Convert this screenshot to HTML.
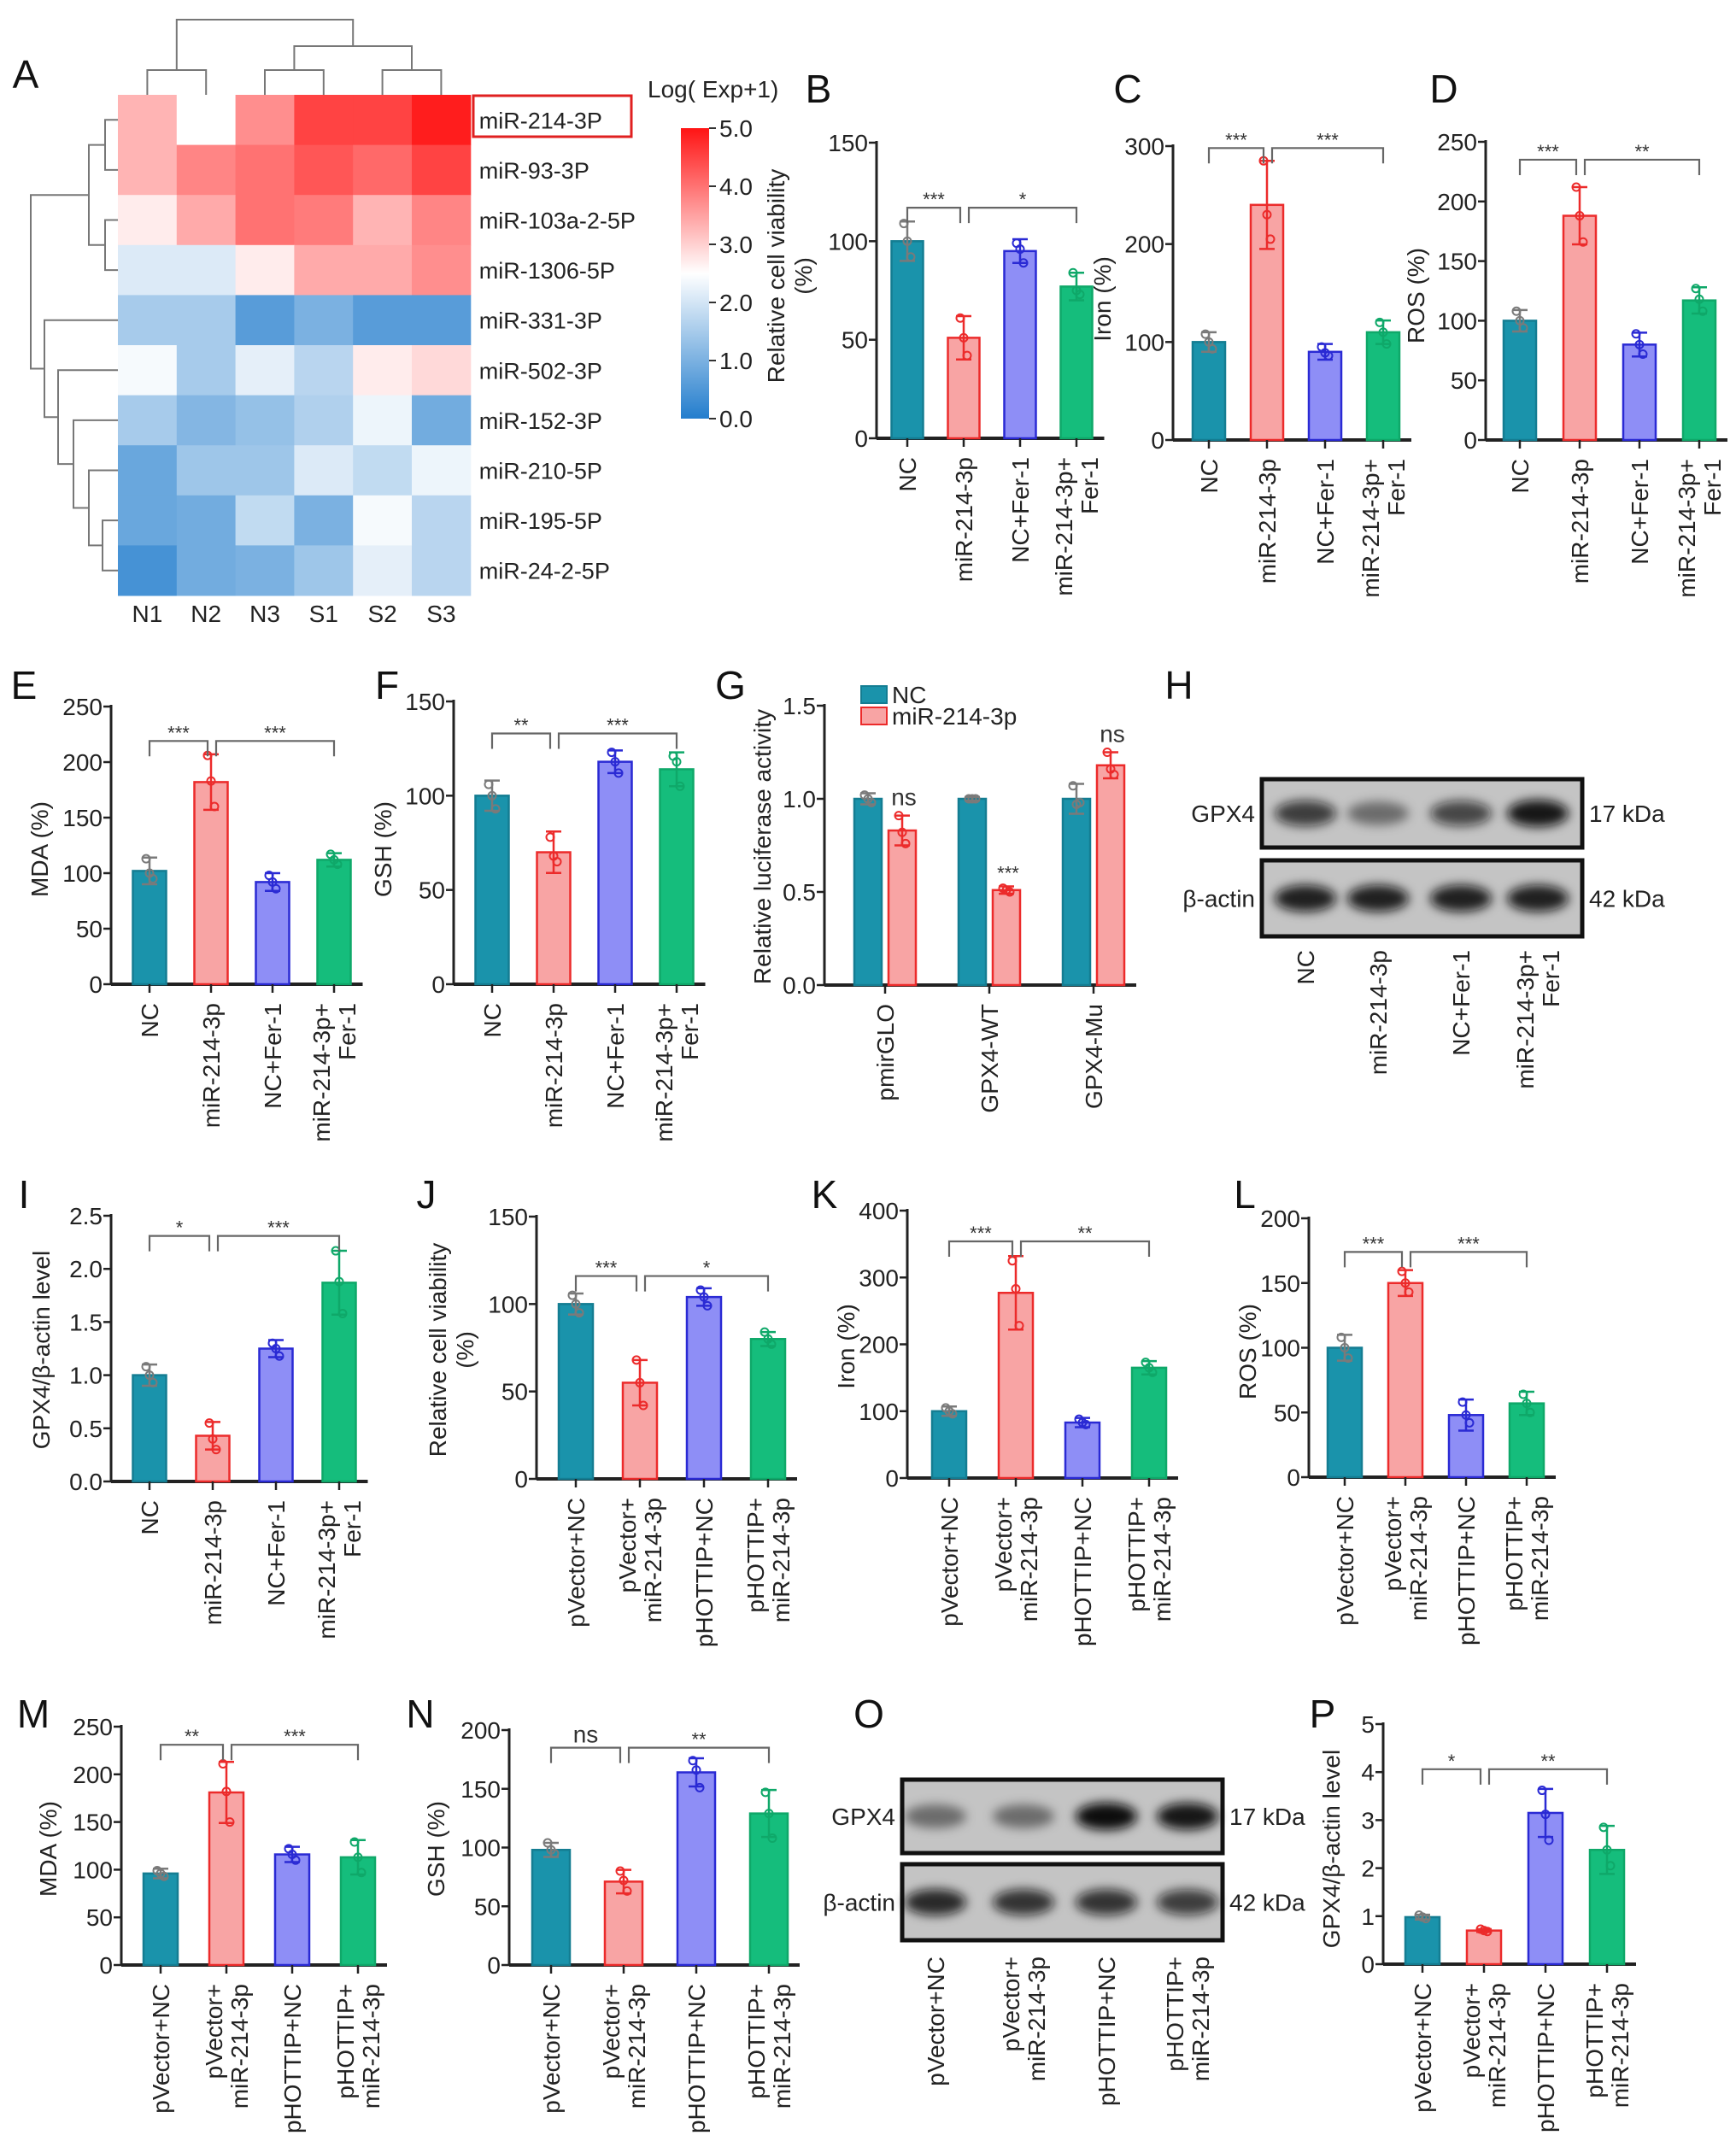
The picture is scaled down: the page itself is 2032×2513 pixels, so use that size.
<!DOCTYPE html>
<html><head><meta charset="utf-8">
<style>
html,body{margin:0;padding:0;background:#fff;}
svg{display:block;font-family:"Liberation Sans",Arial,sans-serif;}
</style></head>
<body>
<svg id="fig" width="2032" height="2513" viewBox="0 0 2032 2513" xmlns="http://www.w3.org/2000/svg">
<defs>
<filter id="blur" x="-50%" y="-50%" width="200%" height="200%"><feGaussianBlur stdDeviation="6"/></filter>
</defs>
</svg>
<script>
// ---------- Heatmap data ----------
const hmCols = ["N1","N2","N3","S1","S2","S3"];
const hmRows = ["miR-214-3P","miR-93-3P","miR-103a-2-5P","miR-1306-5P","miR-331-3P","miR-502-3P","miR-152-3P","miR-210-5P","miR-195-5P","miR-24-2-5P"];
const hmVals = [
 [3.3,2.5,3.7,4.5,4.5,4.9],
 [3.3,3.8,4.0,4.3,4.1,4.5],
 [2.7,3.4,4.0,3.9,3.3,3.8],
 [2.1,2.1,2.7,3.4,3.4,3.7],
 [1.5,1.5,0.6,1.0,0.6,0.6],
 [2.4,1.5,2.2,1.7,2.7,2.9],
 [1.5,1.1,1.3,1.6,2.3,0.9],
 [0.8,1.4,1.4,2.1,1.8,2.3],
 [0.8,0.9,1.8,1.0,2.4,1.7],
 [0.4,0.9,1.0,1.4,2.2,1.7]
];
const cbTicks = ["0.0","1.0","2.0","3.0","4.0","5.0"];

// ---------- Bar chart data ----------
const catsFer = ["NC","miR-214-3p","NC+Fer-1","miR-214-3p+|Fer-1"];
const catsHot = ["pVector+NC","pVector+|miR-214-3p","pHOTTIP+NC","pHOTTIP+|miR-214-3p"];

const bMean=[100,51,95,77], bSd=[10,11,6,7], bPts=[[109,100,92],[61,51,42],[99,96,89],[84,75,73]];
const cMean=[100,240,90,110], cSd=[10,45,8,12], cPts=[[108,100,93],[285,230,205],[95,89,86],[120,110,98]];
const dMean=[100,188,80,117], dSd=[9,24,10,11], dPts=[[108,100,94],[212,188,166],[89,80,72],[127,118,108]];
const eMean=[102,182,92,112], eSd=[12,25,8,6], ePts=[[113,100,95],[206,183,160],[98,92,86],[117,112,108]];
const fMean=[100,70,118,114], fSd=[8,11,6,9], fPts=[[106,100,93],[78,68,65],[123,118,112],[121,118,105]];
const gNC=[1.0,1.0,1.0], gNCsd=[0.03,0.01,0.08], gNCpts=[[1.02,1.0,0.98],[1.0,1.0,1.0],[1.07,0.97,0.98]];
const gMiR=[0.83,0.51,1.18], gMiRsd=[0.08,0.02,0.07], gMiRpts=[[0.91,0.82,0.76],[0.52,0.51,0.50],[1.25,1.16,1.13]];
const iMean=[1.0,0.43,1.25,1.87], iSd=[0.1,0.13,0.08,0.3], iPts=[[1.08,1.0,0.93],[0.55,0.40,0.30],[1.30,1.25,1.18],[2.17,1.88,1.58]];
const jMean=[100,55,104,80], jSd=[6,13,5,4], jPts=[[105,100,95],[68,55,42],[108,104,99],[84,80,77]];
const kMean=[100,277,83,165], kSd=[7,55,7,10], kPts=[[105,100,96],[325,283,228],[88,83,80],[173,165,158]];
const lMean=[100,150,48,57], lSd=[10,10,12,9], lPts=[[108,100,92],[159,150,143],[58,48,42],[64,57,50]];
const mMean=[96,181,116,113], mSd=[5,32,8,18], mPts=[[99,96,93],[211,182,150],[122,116,110],[129,113,97]];
const nMean=[98,71,164,129], nSd=[6,10,12,20], nPts=[[104,98,95],[80,72,63],[174,166,151],[147,129,108]];
const pMean=[0.98,0.70,3.15,2.38], pSd=[0.05,0.03,0.5,0.5], pPts=[[1.02,0.98,0.95],[0.73,0.70,0.68],[3.62,3.12,2.58],[2.85,2.38,2.05]];

const ticks150=["0","50","100","150"], ticks300=["0","100","200","300"], ticks250=["0","50","100","150","200","250"];
const ticks15=["0.0","0.5","1.0","1.5"], ticks25=["0.0","0.5","1.0","1.5","2.0","2.5"];
const ticks400=["0","100","200","300","400"], ticks200=["0","50","100","150","200"], ticks5=["0","1","2","3","4","5"];

const sigB=["***","*"], sigC=["***","***"], sigD=["***","**"], sigE=["***","***"], sigF=["**","***"];
const sigI=["*","***"], sigJ=["***","*"], sigK=["***","**"], sigL=["***","***"], sigM=["**","***"], sigN=["ns","**"], sigP=["*","**"];
const sigLevB=117, sigLevC=298, sigLevD=235, sigLevE=219, sigLevF=133, sigLevI=2.31, sigLevJ=116, sigLevK=354, sigLevL=174, sigLevM=231, sigLevN=185, sigLevP=4.06;
const gSig=["ns","***","ns"];

// ---------- drawing helpers ----------
const NS="http://www.w3.org/2000/svg";
const svg=document.getElementById('fig');
function mk(tag,attrs,parent){const e=document.createElementNS(NS,tag);for(const k in attrs)e.setAttribute(k,attrs[k]);(parent||svg).appendChild(e);return e;}
function txt(s,attrs,parent){const e=mk('text',attrs,parent);e.textContent=s;return e;}
function grp(name,parent){const g=mk('g',{},parent);return g;}

const FILL=['#1a93ab','#f8a4a4','#8e8ef6','#15bd7c'];
const STROKE=['#147d92','#ec2b2b','#2a2ad4','#0fa869'];
const ERR=['#7a7a7a','#ec2b2b','#2a2ad4','#0fa869'];

function yS(p,v){return p.y0-(v/p.max)*(p.y0-p.yTop);}

function axes(p,g,ticks){
  const a=mk('line',{x1:p.ax,y1:p.yTop-2,x2:p.ax,y2:p.y0,stroke:'#222','stroke-width':3},g);
  
  ticks.forEach((t,i)=>{
    const v=parseFloat(t);const y=yS(p,v);
    mk('line',{x1:p.ax-9,y1:y,x2:p.ax,y2:y,stroke:'#222','stroke-width':2.5},g);
    const tl=txt(t,{x:p.ax-10,y:y+10,'font-size':28,'text-anchor':'end',fill:'#222'},g);
    
  });
  const xa=mk('line',{x1:p.ax,y1:p.y0,x2:p.xEnd,y2:p.y0,stroke:'#222','stroke-width':4},g);
  
}
function xLabel(g,x,y,label){
  const lines=label.split('|');
  lines.forEach((ln,k)=>{
    const off=(k-(lines.length-1)/2)*30;
    const t=txt(ln,{x:0,y:0,'font-size':28,'text-anchor':'end',fill:'#222',transform:`translate(${x+off+10},${y}) rotate(-90)`},g);
    
  });
}
function yTitle(g,x,y,lines){
  lines.forEach((ln,k)=>{
    const t=txt(ln,{x:0,y:0,'font-size':28,'text-anchor':'middle',fill:'#222',transform:`translate(${x+k*32},${y}) rotate(-90)`},g);
    
  });
}
function barMark(p,g,x,w,mean,sd,pts,ci){
  const yt=yS(p,mean),yb=p.y0;
  const r=mk('rect',{x:x-w/2,y:yt,width:w,height:yb-yt,fill:FILL[ci],stroke:STROKE[ci],'stroke-width':2.5},g);
  
  const y1=yS(p,mean+sd),y2=yS(p,mean-sd);
  const e=mk('path',{d:`M${x},${y1}V${y2}M${x-9},${y1}H${x+9}M${x-9},${y2}H${x+9}`,stroke:ERR[ci],'stroke-width':2.5,fill:'none'},g);
  
  pts.forEach((v,k)=>{
    const c=mk('circle',{cx:x+(k-1)*4,cy:yS(p,v),r:4.5,fill:'none',stroke:ERR[ci],'stroke-width':2},g);
    
  });
}
function sig(p,g,x1,x2,lev,label){
  const y=yS(p,lev);
  const b=mk('path',{d:`M${x1},${y+18}V${y}H${x2}V${y+18}`,stroke:'#666','stroke-width':2.2,fill:'none'},g);
  
  const ns=label==='ns';
  const t=txt(label,{x:(x1+x2)/2,y:ns?y-6:y-2,'font-size':ns?28:22,'text-anchor':'middle',fill:'#333'},g);
  
}
function panelLetter(s,x,y){
  const t=txt(s,{x:x,y:y,'font-size':46,'text-anchor':'middle',fill:'#111'});
  
}
function barPanel(name,p,cats,means,sds,pts,ticks,sigs,sigLev,title){
  const g=grp(name);
  const xs=means.map((_,i)=>p.ax+p.off+i*p.step);
  p.xEnd=xs[xs.length-1]+p.w/2+14;
  axes(p,g,ticks);
  means.forEach((m,i)=>barMark(p,g,xs[i],p.w,m,sds[i],pts[i],i));
  xs.forEach((x,i)=>{mk('line',{x1:x,y1:p.y0,x2:x,y2:p.y0+10,stroke:'#222','stroke-width':2.5},g);xLabel(g,x,p.y0+22,cats[i]);});
  sig(p,g,xs[0],xs[1]-4,sigLev,sigs[0]);
  sig(p,g,xs[1]+6,xs[3],sigLev,sigs[1]);
  yTitle(g,title.x,title.y,title.lines);
}

// ---------- Panel A: heatmap ----------
(function(){
  const g=grp('heatmap-panel');
  const x0=138,y0=111,cw=68.8,rh=58.6;
  function col(v){
    const t=v/5;
    let r,gg,b;
    if(t<0.5){const s=t/0.5; r=35+(255-35)*s; gg=125+(255-125)*s; b=205+(255-205)*s;}
    else{const s=(t-0.5)/0.5; r=255; gg=255-(255-20)*s; b=255-(255-20)*s;}
    return `rgb(${Math.round(r)},${Math.round(gg)},${Math.round(b)})`;
  }
  hmVals.forEach((row,ri)=>row.forEach((v,ci)=>{
    const c=mk('rect',{x:x0+ci*cw,y:y0+ri*rh,width:cw+0.5,height:rh+0.5,fill:col(v)},g);
    
  }));
  hmRows.forEach((r,ri)=>{const t=txt(r,{x:x0+6*cw+10,y:y0+ri*rh+rh/2+10,'font-size':27,fill:'#222'},g);});
  hmCols.forEach((c,ci)=>{const t=txt(c,{x:x0+ci*cw+cw/2,y:728,'font-size':28,'text-anchor':'middle',fill:'#222'},g);});
  const hb=mk('rect',{x:554,y:112,width:185,height:48,fill:'none',stroke:'#e02020','stroke-width':3},g);
  
  const cc=i=>x0+i*cw+cw/2, rc=i=>y0+i*rh+rh/2;
  const dz=mk('path',{fill:'none',stroke:'#777','stroke-width':2,d:
   `M${cc(0)},${y0}V82H${cc(1)}V${y0} M${cc(2)},${y0}V82H${cc(3)}V${y0} M${cc(4)},${y0}V82H${cc(5)}V${y0}`+
   ` M${(cc(2)+cc(3))/2},82V54H${(cc(4)+cc(5))/2}V82 M${(cc(0)+cc(1))/2},82V23H${((cc(2)+cc(3))/2+(cc(4)+cc(5))/2)/2}V54`},g);
  
  const m01=(rc(0)+rc(1))/2,m23=(rc(2)+rc(3))/2,m89=(rc(8)+rc(9))/2,m789=(rc(7)+m89)/2,m6=(rc(6)+m789)/2,m5=(rc(5)+m6)/2,m4=(rc(4)+m5)/2,mTop=(m01+m23)/2;
  const dl=mk('path',{fill:'none',stroke:'#777','stroke-width':2,d:
   `M${x0},${rc(0)}H123V${rc(1)}H${x0} M${x0},${rc(2)}H123V${rc(3)}H${x0} M123,${m01}H104V${m23}H123`+
   ` M${x0},${rc(8)}H120V${rc(9)}H${x0} M${x0},${rc(7)}H104V${m89}H120 M${x0},${rc(6)}H86V${m789}H104`+
   ` M${x0},${rc(5)}H68V${m6}H86 M${x0},${rc(4)}H52V${m5}H68 M104,${mTop}H36V${m4}H52`},g);
  
  const grad=mk('linearGradient',{id:'cb',x1:0,y1:1,x2:0,y2:0},svg.querySelector('defs'));
  [0,0.25,0.5,0.75,1].forEach(o=>mk('stop',{offset:o,'stop-color':col(o*5)},grad));
  const cb=mk('rect',{x:797,y:150,width:33,height:340,fill:'url(#cb)'},g);
  
  cbTicks.forEach((t,i)=>{const y=490-i*340/5;mk('line',{x1:830,y1:y,x2:838,y2:y,stroke:'#333','stroke-width':2},g);
    const tl=txt(t,{x:842,y:y+10,'font-size':28,fill:'#222'},g);});
  const ct=txt('Log( Exp+1)',{x:758,y:114,'font-size':28,fill:'#222'},g);
})();

// ---------- Bar panels ----------
barPanel('panel-b',{ax:1026,y0:513,yTop:167,max:150,off:36,step:66,w:37},catsFer,bMean,bSd,bPts,ticks150,sigB,sigLevB,{x:918,y:323,lines:['Relative cell viability','(%)']});
barPanel('panel-c',{ax:1373,y0:515,yTop:171,max:300,off:42,step:68,w:38},catsFer,cMean,cSd,cPts,ticks300,sigC,sigLevC,{x:1300,y:350,lines:['Iron (%)']});
barPanel('panel-d',{ax:1739,y0:515,yTop:166,max:250,off:40,step:70,w:38},catsFer,dMean,dSd,dPts,ticks250,sigD,sigLevD,{x:1667,y:346,lines:['ROS (%)']});
barPanel('panel-e',{ax:130,y0:1152,yTop:827,max:250,off:45,step:72,w:39},catsFer,eMean,eSd,ePts,ticks250,sigE,sigLevE,{x:56,y:994,lines:['MDA (%)']});
barPanel('panel-f',{ax:531,y0:1152,yTop:821,max:150,off:45,step:72,w:39},catsFer,fMean,fSd,fPts,ticks150,sigF,sigLevF,{x:458,y:994,lines:['GSH (%)']});
barPanel('panel-i',{ax:130,y0:1734,yTop:1423,max:2.5,off:45,step:74,w:39},catsFer,iMean,iSd,iPts,ticks25,sigI,sigLevI,{x:58,y:1580,lines:['GPX4/β-actin level']});
barPanel('panel-j',{ax:628,y0:1731,yTop:1424,max:150,off:46,step:75,w:40},catsHot,jMean,jSd,jPts,ticks150,sigJ,sigLevJ,{x:522,y:1580,lines:['Relative cell viability','(%)']});
barPanel('panel-k',{ax:1062,y0:1730,yTop:1417,max:400,off:49,step:78,w:40},catsHot,kMean,kSd,kPts,ticks400,sigK,sigLevK,{x:1000,y:1576,lines:['Iron (%)']});
barPanel('panel-l',{ax:1532,y0:1729,yTop:1426,max:200,off:42,step:71,w:40},catsHot,lMean,lSd,lPts,ticks200,sigL,sigLevL,{x:1470,y:1582,lines:['ROS (%)']});
barPanel('panel-m',{ax:142,y0:2300,yTop:2021,max:250,off:46,step:77,w:40},catsHot,mMean,mSd,mPts,ticks250,sigM,sigLevM,{x:66,y:2164,lines:['MDA (%)']});
barPanel('panel-n',{ax:596,y0:2300,yTop:2025,max:200,off:49,step:85,w:44},catsHot,nMean,nSd,nPts,ticks200,sigN,sigLevN,{x:520,y:2164,lines:['GSH (%)']});
barPanel('panel-p',{ax:1619,y0:2299,yTop:2018,max:5,off:46,step:72,w:40},catsHot,pMean,pSd,pPts,ticks5,sigP,sigLevP,{x:1568,y:2164,lines:['GPX4/β-actin level']});

// ---------- Panel G: grouped bars ----------
(function(){
  const g=grp('panel-g');
  const p={ax:965,y0:1153,yTop:826,max:1.5};
  const groups=['pmirGLO','GPX4-WT','GPX4-Mu'];
  const gx=groups.map((_,i)=>p.ax+71+i*122);
  p.xEnd=gx[2]+20+16+14;
  axes(p,g,ticks15);
  gNC.forEach((v,i)=>barMark(p,g,gx[i]-20,32,v,gNCsd[i],gNCpts[i],0));
  gMiR.forEach((v,i)=>{barMark(p,g,gx[i]+20,32,v,gMiRsd[i],gMiRpts[i],1);
    const s=gSig[i];const t=txt(s,{x:gx[i]+22,y:yS(p,v+gMiRsd[i])-(s==='ns'?12:8),'font-size':s==='ns'?28:22,'text-anchor':'middle',fill:'#333'},g);
    });
  gx.forEach((x,i)=>{mk('line',{x1:x,y1:p.y0,x2:x,y2:p.y0+10,stroke:'#222','stroke-width':2.5},g);xLabel(g,x,p.y0+22,groups[i]);});
  yTitle(g,902,991,['Relative luciferase activity']);
  const l1=mk('rect',{x:1008,y:803,width:30,height:20,fill:FILL[0],stroke:STROKE[0],'stroke-width':2},g);
  const l2=mk('rect',{x:1008,y:828,width:30,height:20,fill:FILL[1],stroke:STROKE[1],'stroke-width':2},g);
  const t1=txt('NC',{x:1044,y:823,'font-size':28,fill:'#222'},g);
  const t2=txt('miR-214-3p',{x:1044,y:848,'font-size':28,fill:'#222'},g);
})();

// ---------- Western blots ----------
function blot(name,bx,bw,gy1,gy2,ay1,ay2,lanes,gInt,aInt,labels,ly){
  const g=grp(name);
  [[gy1,gy2,gInt,'GPX4','17 kDa'],[ay1,ay2,aInt,'β-actin','42 kDa']].forEach(([y1,y2,ints,lab,kda])=>{
    const r=mk('rect',{x:bx,y:y1,width:bw,height:y2-y1,fill:'#c4c4c4',stroke:'#111','stroke-width':5},g);
    
    const cy=(y1+y2)/2;
    lanes.forEach((lx,i)=>{const e=mk('ellipse',{cx:lx,cy:cy,rx:36,ry:12+ints[i]*4,fill:`rgba(10,10,10,${ints[i]})`,filter:'url(#blur)'},g);
      });
    const t=txt(lab,{x:bx-8,y:cy+10,'font-size':28,'text-anchor':'end',fill:'#222'},g);
    const k=txt(kda,{x:bx+bw+8,y:cy+10,'font-size':28,fill:'#222'},g);
  });
  lanes.forEach((lx,i)=>xLabel(g,lx,ly,labels[i]));
}
const hGpx=[0.75,0.45,0.7,0.95], hAct=[0.9,0.9,0.9,0.9];
const oGpx=[0.45,0.45,1.0,0.95], oAct=[0.85,0.8,0.8,0.75];
blot('western-blot-h',1477,375,912,992,1007,1096,[1528,1613,1710,1800],hGpx,hAct,catsFer,1112);
blot('western-blot-o',1056,375,2083,2169,2182,2271,[1095,1198,1295,1390],oGpx,oAct,catsHot,2290);

// ---------- Panel letters ----------
[['A',30,103],['B',958,120],['C',1320,120],['D',1690,120],['E',28,818],['F',453,818],['G',855,818],['H',1380,818],
 ['I',28,1414],['J',499,1414],['K',965,1414],['L',1457,1414],['M',39,2022],['N',492,2022],['O',1017,2022],['P',1548,2022]]
 .forEach(([s,x,y])=>panelLetter(s,x,y));
</script>
</body></html>
